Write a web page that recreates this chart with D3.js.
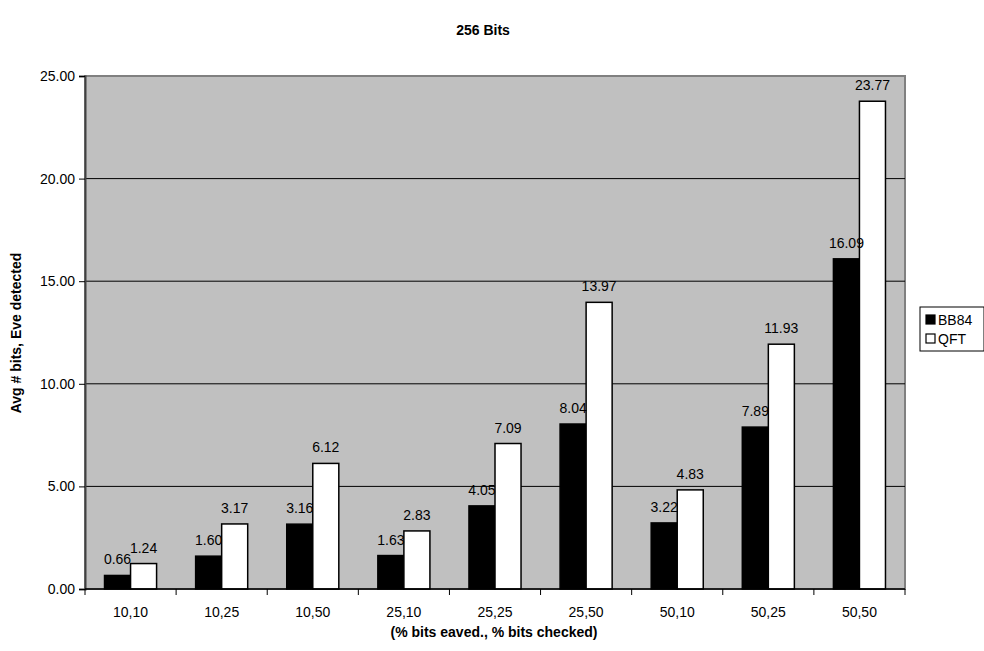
<!DOCTYPE html>
<html>
<head>
<meta charset="utf-8">
<script src="https://cdn.jsdelivr.net/npm/d3@7"></script>
<style>
  html, body { margin: 0; padding: 0; background: #fff; }
  svg { display: block; font-family: "Liberation Sans", Arial, sans-serif; }
</style>
</head>
<body>
<svg id="chart" width="984" height="651"></svg>
<script>
// Average number of bits before Eve is detected, 256-bit key
const categories = ["10,10", "10,25", "10,50", "25,10", "25,25", "25,50", "50,10", "50,25", "50,50"];
const seriesNames = ["BB84", "QFT"];
const bb84 = [0.66, 1.60, 3.16, 1.63, 4.05, 8.04, 3.22, 7.89, 16.09];
const qft = [1.24, 3.17, 6.12, 2.83, 7.09, 13.97, 4.83, 11.93, 23.77];
const yTicks = [0, 5, 10, 15, 20, 25];
const seriesFill = { BB84: "#000000", QFT: "#ffffff" };

const svg = d3.select("#chart");
const plot = { left: 85, right: 905, top: 76, bottom: 589 };

const x0 = d3.scaleBand().domain(categories).range([plot.left, plot.right]).padding(0);
const x1 = d3.scaleBand().domain(seriesNames).range([0, x0.bandwidth()])
  .paddingInner(0).paddingOuter(0.75);
const y = d3.scaleLinear().domain([0, 25]).range([plot.bottom, plot.top]);

// plot background
svg.append("rect")
  .attr("x", plot.left).attr("y", plot.top)
  .attr("width", plot.right - plot.left).attr("height", plot.bottom - plot.top)
  .attr("fill", "#c0c0c0")
  .attr("stroke", "#808080").attr("stroke-width", 2);

// horizontal gridlines
svg.append("g").selectAll("line")
  .data(yTicks.filter(t => t > 0 && t < 25))
  .join("line")
  .attr("x1", plot.left).attr("x2", plot.right)
  .attr("y1", d => y(d)).attr("y2", d => y(d))
  .attr("stroke", "#000").attr("stroke-width", 1);

// bars
const rows = categories.map((c, i) => ({ cat: c, values: [
  { key: "BB84", value: bb84[i] },
  { key: "QFT", value: qft[i] }
]}));

const groups = svg.append("g").selectAll("g")
  .data(rows).join("g")
  .attr("transform", d => `translate(${x0(d.cat)},0)`);

groups.selectAll("rect")
  .data(d => d.values).join("rect")
  .attr("x", d => x1(d.key))
  .attr("y", d => y(d.value))
  .attr("width", x1.bandwidth())
  .attr("height", d => y(0) - y(d.value))
  .attr("fill", d => seriesFill[d.key])
  .attr("stroke", "#000").attr("stroke-width", 1.5);

groups.selectAll("text")
  .data(d => d.values).join("text")
  .attr("x", d => x1(d.key) + x1.bandwidth() / 2)
  .attr("y", d => y(d.value) - 11)
  .attr("text-anchor", "middle")
  .attr("font-size", 14)
  .attr("fill", "#000")
  .text(d => d.value.toFixed(2));

// y axis
const yAxis = d3.axisLeft(y).tickValues(yTicks).tickFormat(d3.format(".2f")).tickSizeOuter(0).tickSize(6).tickPadding(4);
const gy = svg.append("g").attr("transform", `translate(${plot.left},0)`).call(yAxis);
gy.selectAll("text").attr("font-size", 14).attr("fill", "#000").attr("font-family", "Liberation Sans, Arial, sans-serif");
gy.selectAll("line").attr("stroke", "#000");
gy.select(".domain").attr("stroke", "#404040").attr("stroke-width", 2);

// x axis: ticks at category boundaries, labels centred
const gx = svg.append("g").attr("transform", `translate(0,${plot.bottom})`);
gx.append("line").attr("x1", plot.left).attr("x2", plot.right).attr("y1", 0).attr("y2", 0)
  .attr("stroke", "#000").attr("stroke-width", 1.5);
const boundaries = categories.map(c => x0(c)).concat([x0(categories[categories.length - 1]) + x0.bandwidth()]);
gx.selectAll("line.tick").data(boundaries).join("line").attr("class", "tick")
  .attr("x1", d => d).attr("x2", d => d).attr("y1", 0).attr("y2", 6)
  .attr("stroke", "#000");
gx.selectAll("text").data(categories).join("text")
  .attr("x", d => x0(d) + x0.bandwidth() / 2)
  .attr("y", 28)
  .attr("text-anchor", "middle")
  .attr("font-size", 14)
  .text(d => d);

// titles
svg.append("text").attr("x", 483).attr("y", 35).attr("text-anchor", "middle")
  .attr("font-size", 14).attr("font-weight", "bold").text("256 Bits");
svg.append("text").attr("x", 494).attr("y", 637).attr("text-anchor", "middle")
  .attr("font-size", 14).attr("font-weight", "bold").text("(% bits eaved., % bits checked)");
svg.append("text").attr("transform", "translate(21,333) rotate(-90)").attr("text-anchor", "middle")
  .attr("font-size", 14).attr("font-weight", "bold").text("Avg # bits, Eve detected");

// legend
const lg = svg.append("g").attr("transform", "translate(920,307)");
lg.append("rect").attr("x", 0).attr("y", 0).attr("width", 64).attr("height", 44)
  .attr("fill", "#fff").attr("stroke", "#000").attr("stroke-width", 1);
const items = lg.selectAll("g").data(seriesNames).join("g")
  .attr("transform", (d, i) => `translate(6,${8 + i * 19})`);
items.append("rect").attr("x", 0).attr("y", 0).attr("width", 9).attr("height", 9)
  .attr("fill", d => seriesFill[d]).attr("stroke", "#000").attr("stroke-width", 1.2);
items.append("text").attr("x", 12).attr("y", 10).attr("font-size", 14).text(d => d);
</script>
</body>
</html>
